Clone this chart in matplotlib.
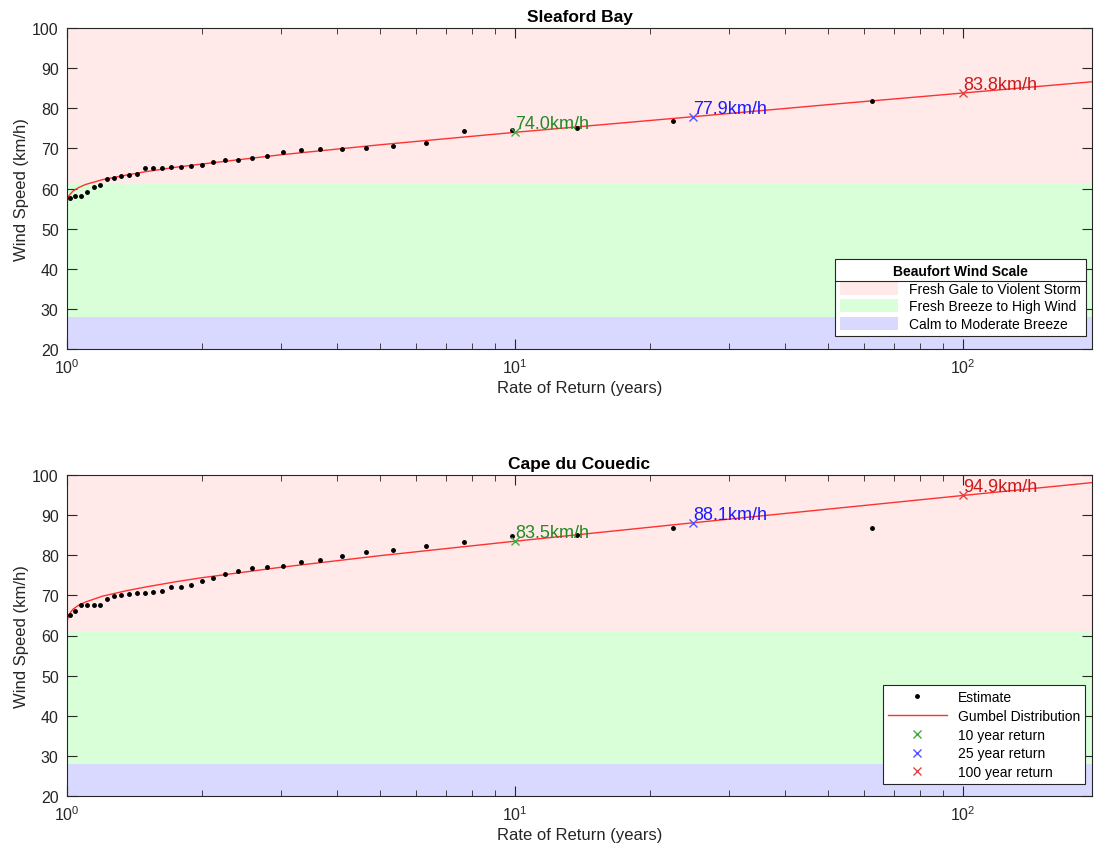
import numpy as np
import matplotlib
matplotlib.use("Agg")
import matplotlib.pyplot as plt
from matplotlib.patches import Patch
from matplotlib.lines import Line2D

plt.rcParams['font.family'] = ['Liberation Sans', 'DejaVu Sans']

# return periods of the ranked annual maxima (years)
return_period = [62.71, 22.51, 13.72, 9.865, 7.702, 6.317, 5.354, 4.646, 4.103, 3.673,
                 3.326, 3.038, 2.796, 2.590, 2.412, 2.257, 2.121, 2.000, 1.892, 1.796,
                 1.708, 1.629, 1.557, 1.491, 1.430, 1.374, 1.322, 1.273, 1.228, 1.186,
                 1.147, 1.110, 1.075, 1.042, 1.0162]

sleaford_est = [81.7, 76.8, 75.1, 74.5, 74.4, 71.3, 70.7, 70.0, 69.9, 69.9,
                69.5, 69.0, 68.0, 67.5, 67.2, 67.2, 66.6, 65.9, 65.5, 65.4,
                65.4, 65.2, 65.1, 65.0, 63.6, 63.4, 63.2, 62.7, 62.4, 60.8,
                60.4, 59.2, 58.2, 58.1, 57.7]

couedic_est = [86.7, 86.7, 85.1, 84.9, 83.4, 82.2, 81.3, 80.8, 79.9, 78.9,
               78.3, 77.4, 77.0, 76.8, 76.0, 75.3, 74.3, 73.6, 72.6, 72.2,
               72.2, 71.2, 70.9, 70.6, 70.5, 70.4, 70.2, 69.9, 69.1, 67.7,
               67.7, 67.6, 67.5, 66.2, 65.0]

# Gumbel fit curves sampled at these return periods
curve_T = [1.0000001, 1.00001, 1.0001, 1.001, 1.003, 1.01, 1.03, 1.06, 1.1, 1.2,
           1.35, 1.5, 1.75, 2, 3, 5, 10, 25, 50, 100, 194]
sleaford_fit = [53.0, 54.4, 55.3, 56.5, 57.3, 58.2, 59.3, 60.2, 61.0, 62.2,
                63.3, 64.2, 65.3, 66.1, 68.4, 70.9, 74.0, 77.9, 80.9, 83.8, 86.6]
couedic_fit = [59.1, 60.7, 61.8, 63.2, 64.1, 65.2, 66.5, 67.5, 68.35, 69.8,
               71.1, 72.1, 73.4, 74.4, 77.0, 79.9, 83.5, 88.1, 91.5, 94.9, 98.1]

return_years = [10, 25, 100]
sleaford_ret = [74.0, 77.9, 83.8]
couedic_ret = [83.5, 88.1, 94.9]

# Beaufort bands (km/h)
band_edges = [20, 28, 61, 100]
band_names = ['Calm to Moderate Breeze', 'Fresh Breeze to High Wind', 'Fresh Gale to Violent Storm']
band_colors = ['#d9d9ff', '#d9ffd9', '#ffe9e9']

marker_colors = ['#44aa44', '#5555ff', '#e04444']
text_colors = ['#228b22', '#1a1aff', '#cc1a1a']
ink = '#262626'

fig = plt.figure(figsize=(10.94, 8.54), dpi=100)
W, H = 1094, 854
ax1 = fig.add_axes([67 / W, 1 - 350 / H, 1025 / W, 321 / H])
ax2 = fig.add_axes([67 / W, 1 - 797 / H, 1025 / W, 321 / H])

sites = [(ax1, 'Sleaford Bay', sleaford_est, sleaford_fit, sleaford_ret),
         (ax2, 'Cape du Couedic', couedic_est, couedic_fit, couedic_ret)]

for ax, title, est, fit, ret in sites:
    band_handles = []
    for k in range(3):
        ax.axhspan(band_edges[k], band_edges[k + 1], color=band_colors[k], lw=0, zorder=0)
        band_handles.append(Patch(facecolor=band_colors[k], edgecolor='none', label=band_names[k]))

    h_est, = ax.plot(return_period, est, 'k.', ms=5, label='Estimate', zorder=3)
    h_fit, = ax.plot(curve_T, fit, '-', color='#ff3030', lw=1, label='Gumbel Distribution', zorder=2)
    handles = [h_est, h_fit]
    for j, (T, v) in enumerate(zip(return_years, ret)):
        h, = ax.plot(T, v, 'x', color=marker_colors[j], ms=6, mew=1,
                     label=f'{T} year return', zorder=4)
        handles.append(h)
        ax.text(T, v, f'{v:.1f}km/h', color=text_colors[j], fontsize=13,
                ha='left', va='bottom', zorder=5)

    ax.set_xscale('log')
    ax.set_xlim(1, 194)
    ax.set_ylim(20, 100)
    ax.set_yticks(range(20, 101, 10))
    ax.set_title(title, fontsize=12.5, fontweight='bold', color='black', pad=5)
    ax.set_xlabel('Rate of Return (years)', fontsize=12, color=ink, labelpad=3)
    ax.set_ylabel('Wind Speed (km/h)', fontsize=12, color=ink, labelpad=2)
    ax.tick_params(which='both', direction='in', top=True, right=True,
                   colors=ink, labelsize=11.5)
    ax.tick_params(axis='x', which='both', pad=6)
    ax.tick_params(axis='y', which='both', pad=6)
    ax.tick_params(which='major', length=7, width=0.8)
    ax.tick_params(which='minor', length=4, width=0.6)
    for s in ax.spines.values():
        s.set_color(ink)
        s.set_linewidth(0.8)

    if ax is ax1:
        leg = ax.legend(handles=band_handles[::-1], loc='lower right',
                        bbox_to_anchor=(0.994, 0.04), borderaxespad=0,
                        title='Beaufort Wind Scale', fontsize=10,
                        title_fontproperties={'weight': 'bold', 'size': 10},
                        fancybox=False, edgecolor=ink, framealpha=1,
                        handlelength=4.2, handleheight=1.1, labelspacing=0.25,
                        borderpad=0.35)
    else:
        leg = ax.legend(handles=handles, loc='lower right',
                        bbox_to_anchor=(0.993, 0.037), borderaxespad=0,
                        fontsize=10, fancybox=False, edgecolor=ink, framealpha=1,
                        handlelength=4.2, labelspacing=0.35, borderpad=0.35)
    leg.get_frame().set_linewidth(0.8)

# separator under the Beaufort legend title
fig.canvas.draw()
leg1 = ax1.get_legend()
fb = leg1.get_window_extent()
tb = leg1.get_title().get_window_extent()
ysep = (tb.y0 - 3) / fig.bbox.height
fig.add_artist(Line2D([fb.x0 / fig.bbox.width, fb.x1 / fig.bbox.width], [ysep, ysep],
                      color=ink, lw=0.8, zorder=10))

fig.savefig('out.png', dpi=100)
